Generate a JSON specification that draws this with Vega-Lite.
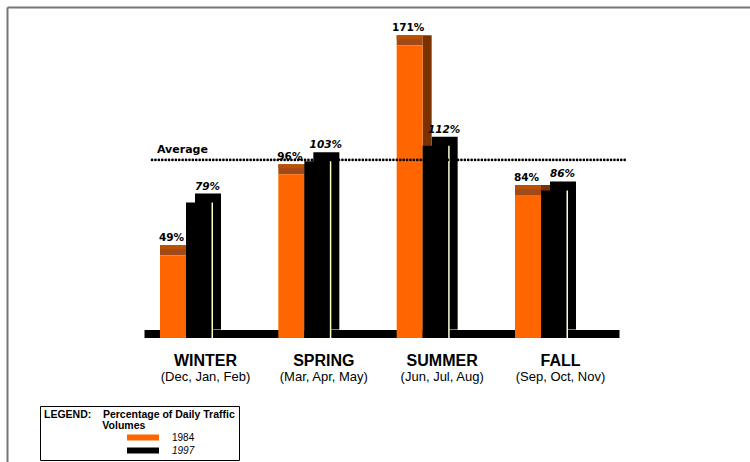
{
  "$schema": "https://vega.github.io/schema/vega-lite/v6.json",
  "width": 743,
  "height": 455,
  "padding": {"left": 7, "top": 7, "right": 0, "bottom": 0},
  "autosize": {"type": "none"},
  "background": "white",
  "config": {"view": {"stroke": null}, "font": "Liberation Sans"},
  "data": {
    "values": [
      {"season": "WINTER", "year": "1984", "pct": 49},
      {"season": "WINTER", "year": "1997", "pct": 79},
      {"season": "SPRING", "year": "1984", "pct": 96},
      {"season": "SPRING", "year": "1997", "pct": 103},
      {"season": "SUMMER", "year": "1984", "pct": 171},
      {"season": "SUMMER", "year": "1997", "pct": 112},
      {"season": "FALL", "year": "1984", "pct": 84},
      {"season": "FALL", "year": "1997", "pct": 86}
    ]
  },
  "resolve": {"axis": {"x": "independent", "y": "independent"}},
  "layer": [
    {
      "description": "floor slab under the bars; blank categories pad the band scale on both sides",
      "data": {"values": [{"pct": 0}]},
      "mark": {"type": "rule", "color": "black", "strokeWidth": 8, "strokeCap": "butt", "yOffset": 4.5, "xOffset": -60, "x2Offset": 60},
      "encoding": {
        "x": {
          "datum": "WINTER", "type": "nominal",
          "scale": {"domain": ["", "WINTER", "SPRING", "SUMMER", "FALL", " "], "paddingInner": 0, "paddingOuter": 0.1395, "align": 0.606},
          "axis": null
        },
        "x2": {"datum": "FALL"},
        "y": {"field": "pct", "type": "quantitative", "scale": {"domain": [-77, 187.4], "nice": false, "zero": false}, "axis": null}
      }
    },
    {
      "description": "1997 box depth, also carries the frame axes",
      "transform": [{"filter": "datum.year === '1997'"}],
      "mark": {"type": "bar", "width": 26, "xOffset": 3.5, "color": "black"},
      "encoding": {
        "x": {"field": "season", "type": "nominal", "axis": {"orient": "top", "domain": true, "domainColor": "#777777", "domainWidth": 2, "labels": false, "ticks": false, "grid": false, "title": null}},
        "y": {"field": "pct", "type": "quantitative", "axis": {"orient": "left", "domain": true, "domainColor": "#777777", "domainWidth": 2, "labels": false, "ticks": false, "grid": false, "title": null}},
        "y2": {"datum": 0}
      }
    },
    {
      "description": "1984 side face",
      "transform": [{"filter": "datum.year === '1984'"}],
      "mark": {"type": "bar", "width": 9, "xOffset": -14, "color": "#7a3300"},
      "encoding": {
        "x": {"field": "season", "type": "nominal", "axis": null},
        "y": {"field": "pct", "type": "quantitative", "axis": null},
        "y2": {"datum": 0}
      }
    },
    {
      "description": "1984 top face",
      "transform": [{"filter": "datum.year === '1984'"}],
      "mark": {"type": "bar", "width": 26, "xOffset": -31.5, "color": "#a04a1a", "y2Offset": 10},
      "encoding": {
        "x": {"field": "season", "type": "nominal", "axis": null},
        "y": {"field": "pct", "type": "quantitative", "axis": null},
        "y2": {"field": "pct"}
      }
    },
    {
      "description": "1984 top face highlight stripe",
      "transform": [{"filter": "datum.year === '1984'"}],
      "mark": {"type": "bar", "width": 26, "xOffset": -31.5, "color": "#bd4f00", "y2Offset": 4},
      "encoding": {
        "x": {"field": "season", "type": "nominal", "axis": null},
        "y": {"field": "pct", "type": "quantitative", "axis": null},
        "y2": {"field": "pct"}
      }
    },
    {
      "description": "1984 front face with season axis and legend",
      "transform": [{"filter": "datum.year === '1984'"}],
      "mark": {"type": "bar", "width": 26, "xOffset": -31.5, "yOffset": 10, "y2Offset": 8.5},
      "encoding": {
        "x": {
          "field": "season", "type": "nominal",
          "axis": {"orient": "bottom", "offset": -97, "domain": false, "ticks": false, "tickSize": 0, "labelPadding": 0, "labelBaseline": "alphabetic", "labelAngle": 0, "labelFont": "Liberation Sans", "labelFontSize": 16, "labelFontWeight": "bold", "labelColor": "black", "labelOffset": 1, "grid": false, "title": null}
        },
        "y": {"field": "pct", "type": "quantitative", "axis": null},
        "y2": {"datum": 0},
        "color": {
          "field": "year", "type": "nominal",
          "scale": {"domain": ["1984", "1997"], "range": ["#ff6600", "#000000"]},
          "legend": {
            "orient": "none", "legendX": 33, "legendY": 399,
            "title": ["LEGEND:\u00a0\u00a0\u00a0 Percentage of Daily Traffic", "\u200b\u00a0\u00a0\u00a0\u00a0\u00a0\u00a0\u00a0\u00a0\u00a0\u00a0\u00a0\u00a0\u00a0\u00a0\u00a0\u00a0\u00a0\u00a0\u00a0\u00a0Volumes"],
            "titleFont": "Liberation Sans", "titleFontSize": 10.5, "titleFontWeight": "bold", "titleColor": "black", "titleLineHeight": 11, "titlePadding": 1, "titleLimit": 0,
            "strokeColor": "black", "padding": 4,
            "symbolType": "M-5.333,-1H5.333V1H-5.333Z", "symbolSize": 36, "symbolStrokeWidth": 0, "symbolOffset": 94,
            "labelOffset": 24, "labelFont": "Liberation Sans", "labelFontSize": 10, "labelColor": "black", "rowPadding": 3,
            "encode": {"labels": {"update": {"fontStyle": {"signal": "datum.label === '1997' ? 'italic' : 'normal'"}}}}
          }
        }
      }
    },
    {
      "description": "1997 front face with months axis",
      "transform": [{"filter": "datum.year === '1997'"}],
      "mark": {"type": "bar", "width": 26, "xOffset": -5.5, "yOffset": 9, "y2Offset": 8.5, "color": "black"},
      "encoding": {
        "x": {
          "field": "season", "type": "nominal",
          "axis": {"orient": "bottom", "offset": -82, "domain": false, "ticks": false, "tickSize": 0, "labelPadding": 0, "labelBaseline": "alphabetic", "labelAngle": 0, "labelFont": "Liberation Sans", "labelFontSize": 13, "labelColor": "black", "labelOffset": 1, "grid": false, "title": null,
            "labelExpr": "datum.value === 'WINTER' ? '(Dec, Jan, Feb)' : datum.value === 'SPRING' ? '(Mar, Apr, May)' : datum.value === 'SUMMER' ? '(Jun, Jul, Aug)' : datum.value === 'FALL' ? '(Sep, Oct, Nov)' : ''"}
        },
        "y": {"field": "pct", "type": "quantitative", "axis": null},
        "y2": {"datum": 0}
      }
    },
    {
      "description": "1997 front edge highlight",
      "transform": [{"filter": "datum.year === '1997'"}],
      "mark": {"type": "bar", "width": 1.5, "xOffset": 7.75, "yOffset": 9, "y2Offset": 8.5, "color": "#ffffcc"},
      "encoding": {
        "x": {"field": "season", "type": "nominal", "axis": null},
        "y": {"field": "pct", "type": "quantitative", "axis": null},
        "y2": {"datum": 0}
      }
    },
    {
      "description": "average reference line",
      "data": {"values": [{"pct": 100, "label": "Average"}]},
      "mark": {"type": "rule", "color": "black", "strokeWidth": 2.6, "strokeCap": "round", "strokeDash": [0.1, 3.3], "yOffset": 2.5, "xOffset": -52.5, "x2Offset": 65.5},
      "encoding": {
        "x": {"datum": "WINTER", "type": "nominal", "axis": null},
        "x2": {"datum": "FALL"},
        "y": {"field": "pct", "type": "quantitative", "axis": null}
      }
    },
    {
      "data": {"values": [{"pct": 100, "label": "Average"}]},
      "mark": {"type": "text", "align": "left", "baseline": "alphabetic", "dx": -47.5, "dy": -4.5, "font": "DejaVu Sans", "fontSize": 11, "fontWeight": "bold", "color": "black"},
      "encoding": {
        "x": {"datum": "WINTER", "type": "nominal", "axis": null},
        "y": {"field": "pct", "type": "quantitative", "axis": null},
        "text": {"field": "label"}
      }
    },
    {
      "description": "1984 value labels",
      "transform": [{"filter": "datum.year === '1984'"}, {"calculate": "datum.pct + '%'", "as": "label"}],
      "mark": {"type": "text", "align": "center", "baseline": "alphabetic", "dx": -33, "dy": -4, "font": "DejaVu Sans", "fontSize": 10.5, "fontWeight": "bold", "color": "black"},
      "encoding": {
        "x": {"field": "season", "type": "nominal", "axis": null},
        "y": {"field": "pct", "type": "quantitative", "axis": null},
        "text": {"field": "label"}
      }
    },
    {
      "description": "1997 value labels",
      "transform": [{"filter": "datum.year === '1997'"}, {"calculate": "datum.pct + '%'", "as": "label"}],
      "mark": {"type": "text", "align": "center", "baseline": "alphabetic", "dx": 3, "dy": -4, "font": "DejaVu Sans", "fontSize": 10.5, "fontWeight": "bold", "fontStyle": "italic", "color": "black"},
      "encoding": {
        "x": {"field": "season", "type": "nominal", "axis": null},
        "y": {"field": "pct", "type": "quantitative", "axis": null},
        "text": {"field": "label"}
      }
    }
  ]
}
